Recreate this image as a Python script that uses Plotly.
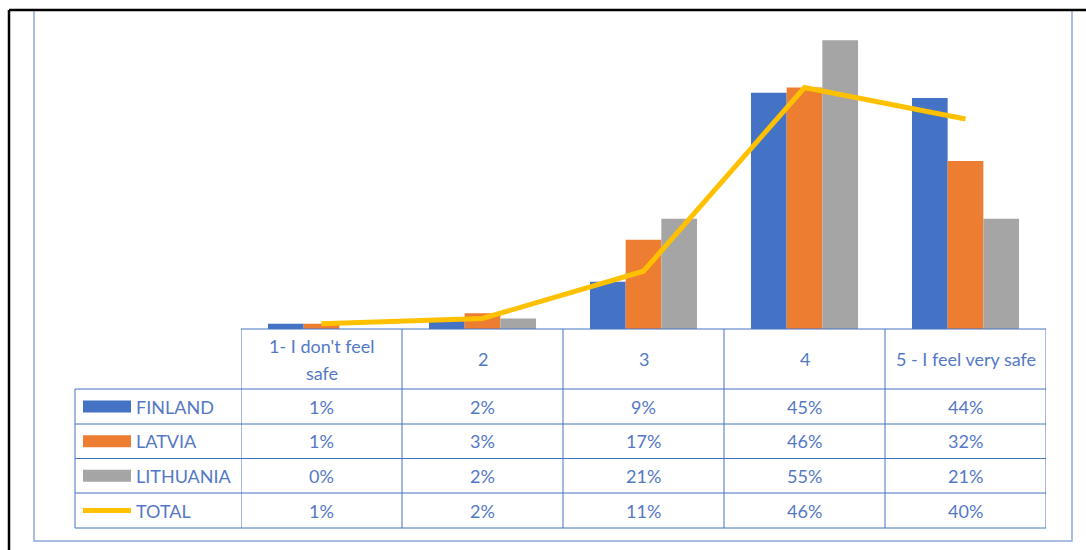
import plotly.graph_objects as go

categories = ["1- I don't feel safe", "2", "3", "4", "5 - I feel very safe"]
header_lines = [["1- I don't feel", "safe"], ["2"], ["3"], ["4"], ["5 - I feel very safe"]]
finland = [1, 2, 9, 45, 44]
latvia = [1, 3, 17, 46, 32]
lithuania = [0, 2, 21, 55, 21]
total = [1, 2, 11, 46, 40]
series_names = ["FINLAND", "LATVIA", "LITHUANIA", "TOTAL"]

W, H = 1086, 550
BLUE, ORANGE, GRAY, GOLD = "#4472C4", "#ED7D31", "#A5A5A5", "#FFC000"
TXT = "#5478C6"
FONT = "Lato"
FS = 18

def px(x):
    return x / W

def py(y):
    return 1 - y / H

xs = list(range(len(categories)))
fig = go.Figure()
for name, vals, col in [(series_names[0], finland, BLUE), (series_names[1], latvia, ORANGE),
                        (series_names[2], lithuania, GRAY)]:
    fig.add_trace(go.Bar(x=xs, y=vals, name=name, marker=dict(color=col, line=dict(width=0))))
fig.add_trace(go.Scatter(x=xs, y=total, name=series_names[3], mode="lines",
                         line=dict(color=GOLD, width=5, shape="linear")))

x0, x1 = 241, 1046
base_y = 329
fig.update_layout(
    width=W, height=H, margin=dict(l=0, r=0, t=0, b=0),
    paper_bgcolor="white", plot_bgcolor="rgba(0,0,0,0)",
    barmode="group", bargap=0.335, bargroupgap=0,
    showlegend=False,
    xaxis=dict(domain=[px(x0), px(x1)], range=[-0.5, 4.5], visible=False, fixedrange=True),
    yaxis=dict(domain=[py(base_y), py(14)], range=[0, 60], visible=False, fixedrange=True),
    font=dict(family=FONT, size=FS, color=TXT),
)

shapes = []
# outer borders
shapes.append(dict(type="rect", xref="paper", yref="paper", x0=px(34), x1=px(1072), y0=py(541), y1=py(10),
                   line=dict(color="#8EA9DB", width=1.5), layer="below"))
shapes.append(dict(type="line", xref="paper", yref="paper", x0=px(9), x1=px(1086), y0=py(10), y1=py(10),
                   line=dict(color="black", width=2.5)))
shapes.append(dict(type="line", xref="paper", yref="paper", x0=px(9), x1=px(9), y0=py(10), y1=py(550),
                   line=dict(color="black", width=2.5)))

row_y = [389, 424, 458.5, 493, 528]
tl = dict(color=BLUE, width=1)
shapes.append(dict(type="line", xref="paper", yref="paper", x0=px(x0), x1=px(x1), y0=py(base_y), y1=py(base_y), line=tl))
for ry in row_y:
    shapes.append(dict(type="line", xref="paper", yref="paper", x0=px(75), x1=px(x1), y0=py(ry), y1=py(ry), line=tl))
shapes.append(dict(type="line", xref="paper", yref="paper", x0=px(75), x1=px(75), y0=py(389), y1=py(528), line=tl))
for i in range(len(categories) + 1):
    shapes.append(dict(type="line", xref="x", yref="paper", x0=i - 0.5, x1=i - 0.5, y0=py(base_y), y1=py(528), line=tl))

# legend keys
key_cols = [BLUE, ORANGE, GRAY]
for k in range(3):
    cy = (row_y[k] + row_y[k + 1]) / 2
    shapes.append(dict(type="rect", xref="paper", yref="paper", x0=px(83), x1=px(131), y0=py(cy + 6), y1=py(cy - 6),
                       fillcolor=key_cols[k], line=dict(width=0)))
cy = (row_y[3] + row_y[4]) / 2
shapes.append(dict(type="line", xref="paper", yref="paper", x0=px(83), x1=px(131), y0=py(cy), y1=py(cy),
                   line=dict(color=GOLD, width=5)))

annotations = []
for i, lines in enumerate(header_lines):
    n = len(lines)
    for j, t in enumerate(lines):
        yc = 359 + (j - (n - 1) / 2) * 27
        annotations.append(dict(x=i, y=py(yc), xref="x", yref="paper", text=t, showarrow=False,
                                xanchor="center", yanchor="middle", font=dict(size=FS, color=TXT)))
all_vals = [finland, latvia, lithuania, total]
for r, (name, vals) in enumerate(zip(series_names, all_vals)):
    cy = (row_y[r] + row_y[r + 1]) / 2
    annotations.append(dict(x=px(134), y=py(cy), xref="paper", yref="paper", text=name, showarrow=False,
                            xanchor="left", yanchor="middle", font=dict(size=FS, color=TXT)))
    for i, v in enumerate(vals):
        annotations.append(dict(x=i, y=py(cy), xref="x", yref="paper", text=f"{v}%", showarrow=False,
                                xanchor="center", yanchor="middle", font=dict(size=FS, color=TXT)))

fig.update_layout(shapes=shapes, annotations=annotations)
fig.write_html("out.html")
